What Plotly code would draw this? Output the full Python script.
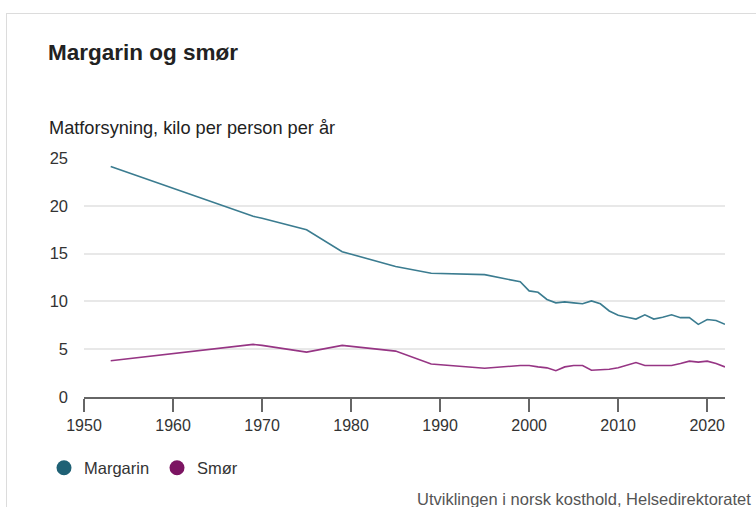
import plotly.graph_objects as go

# Matforsyning (kilo per person per år)
margarin_years = [1953, 1969, 1970, 1975, 1979, 1985, 1989, 1995, 1999, 2000,
                  2001, 2002, 2003, 2004, 2005, 2006, 2007, 2008, 2009, 2010,
                  2011, 2012, 2013, 2014, 2015, 2016, 2017, 2018, 2019, 2020,
                  2021, 2022]
margarin = [24.1, 18.9, 18.7, 17.5, 15.2, 13.65, 12.95, 12.8, 12.05, 11.1,
            10.95, 10.2, 9.85, 9.95, 9.85, 9.75, 10.05, 9.75, 9.0, 8.55,
            8.35, 8.15, 8.6, 8.15, 8.35, 8.6, 8.3, 8.3, 7.6, 8.1,
            8.0, 7.6]

smor_years = margarin_years
smor = [3.8, 5.5, 5.4, 4.7, 5.4, 4.8, 3.45, 3.0, 3.3, 3.3,
        3.15, 3.05, 2.75, 3.15, 3.3, 3.3, 2.8, 2.87, 2.9, 3.05,
        3.3, 3.6, 3.3, 3.3, 3.3, 3.3, 3.5, 3.75, 3.65, 3.75,
        3.5, 3.15]

x_ticks = [1950, 1960, 1970, 1980, 1990, 2000, 2010, 2020]
y_ticks = [0, 5, 10, 15, 20, 25]

series = [
    ("Margarin", margarin_years, margarin, "#3b7c90", "#1f6175"),
    ("Smør", smor_years, smor, "#963584", "#7c1462"),
]

FONT = "Liberation Sans, Arial, sans-serif"
W, H = 756, 507
L, R, T, B = 84, 31, 158, 110
PW, PH = W - L - R, H - T - B


def px_x(p):
    return (p - L) / PW


def px_y(p):
    return (H - B - p) / PH


fig = go.Figure()
for name, xs, ys, line_col, dot_col in series:
    fig.add_trace(go.Scatter(x=xs, y=ys, mode="lines", name=name,
                             line=dict(color=line_col, width=1.6),
                             showlegend=False, hoverinfo="skip"))
for name, xs, ys, line_col, dot_col in series:
    fig.add_trace(go.Scatter(x=[None], y=[None], mode="markers", name=name,
                             marker=dict(color=dot_col, size=15, symbol="circle")))

fig.update_layout(
    width=W, height=H,
    margin=dict(l=L, r=R, t=T, b=B),
    paper_bgcolor="white", plot_bgcolor="white",
    font=dict(family=FONT, size=16, color="#333333"),
    title=dict(text="<b>Margarin og smør</b>", xref="container", yref="container",
               x=48 / W, y=1 - 52 / H, xanchor="left", yanchor="middle",
               font=dict(family=FONT, size=22.5, color="#222222")),
    showlegend=True,
    legend=dict(orientation="h", x=px_x(44), y=px_y(468), xanchor="left", yanchor="middle",
                entrywidth=68, entrywidthmode="pixels",
                font=dict(family=FONT, size=16.5, color="#333333"), itemclick=False),
    xaxis=dict(range=[1950, 2022], tickvals=x_ticks, showgrid=False,
               showline=True, linecolor="#666666", linewidth=1.5,
               ticks="outside", ticklen=13, tickwidth=1.5, tickcolor="#666666",
               tickfont=dict(family=FONT, size=16, color="#333333"), zeroline=False),
    yaxis=dict(range=[0, 25], tickvals=y_ticks, showgrid=True, gridcolor="#e8e8e8",
               gridwidth=1.5, zeroline=False, showline=False, ticks="",
               ticklabelstandoff=15,
               tickfont=dict(family=FONT, size=16.5, color="#333333")),
    annotations=[
        dict(text="Matforsyning, kilo per person per år", xref="paper", yref="paper",
             x=px_x(47), y=px_y(128), xanchor="left", yanchor="middle", showarrow=False,
             font=dict(family=FONT, size=18.2, color="#222222")),
        dict(text="Utviklingen i norsk kosthold, Helsedirektoratet", xref="paper", yref="paper",
             x=px_x(753), y=px_y(499), xanchor="right", yanchor="middle", showarrow=False,
             font=dict(family=FONT, size=16.5, color="#555555")),
    ],
    shapes=[
        dict(type="line", xref="paper", yref="paper", x0=px_x(6), x1=px_x(760),
             y0=px_y(13.5), y1=px_y(13.5), line=dict(color="#dcdcdc", width=1)),
        dict(type="line", xref="paper", yref="paper", x0=px_x(6.5), x1=px_x(6.5),
             y0=px_y(13.5), y1=px_y(510), line=dict(color="#dcdcdc", width=1)),
    ],
)

fig.write_html("out.html")
